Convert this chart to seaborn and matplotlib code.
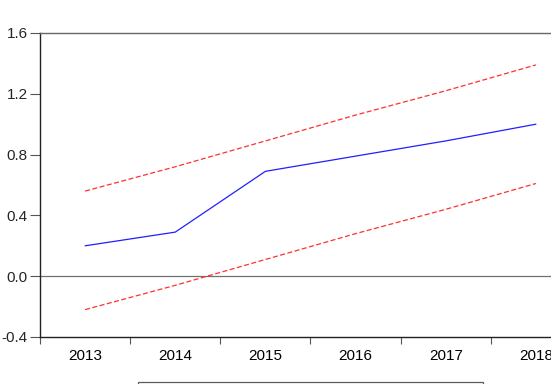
import matplotlib
matplotlib.use("Agg")
import matplotlib.pyplot as plt
import seaborn as sns
import pandas as pd

# values
years = ["2013", "2014", "2015", "2016", "2017", "2018"]
forecast = [0.20, 0.29, 0.69, 0.79, 0.89, 1.00]
upper_band = [0.56, 0.72, 0.89, 1.06, 1.22, 1.39]
lower_band = [-0.22, -0.06, 0.11, 0.28, 0.44, 0.61]
y_ticks = [-0.4, 0.0, 0.4, 0.8, 1.2, 1.6]

sns.set_style("white")
plt.rcParams["font.family"] = ["Liberation Sans", "DejaVu Sans"]

df = pd.DataFrame({"pos": range(len(years)), "year": years,
                   "forecast": forecast, "upper": upper_band, "lower": lower_band})

fig = plt.figure(figsize=(5.51, 3.84), dpi=100)
# axes runs past the right edge of the figure, like the cropped original
ax = fig.add_axes([40 / 551, 47 / 384, 541 / 551, 304 / 384])

sns.lineplot(data=df, x="pos", y="forecast", ax=ax, color="#2020ff",
             linewidth=0.9, label="Forecast")
sns.lineplot(data=df, x="pos", y="upper", ax=ax, color="#ff3030",
             linewidth=0.9, linestyle=(0, (4, 2)), label="\u00b1 2 S.E.")
sns.lineplot(data=df, x="pos", y="lower", ax=ax, color="#ff3030",
             linewidth=0.9, linestyle=(0, (4, 2)))

ax.axhline(0, color="#707070", linewidth=0.9, zorder=0)

ax.set_xlim(-0.5, len(years) - 0.5)
ax.set_ylim(-0.4, 1.6)
ax.set_yticks(y_ticks)
ax.set_yticklabels([f"{v:.1f}" for v in y_ticks])
ax.set_xticks(range(len(years)))
ax.set_xticklabels(years)
ax.set_xticks([i - 0.5 for i in range(len(years) + 1)], minor=True)
ax.tick_params(axis="x", which="major", length=0, pad=9, labelsize=11, colors="black")
ax.tick_params(axis="x", which="minor", length=5, width=0.8, color="#555555",
               direction="out", bottom=True)
ax.tick_params(axis="y", length=7, width=0.8, color="#555555", labelsize=11,
               left=True, pad=2)
ax.set_xlabel("")
ax.set_ylabel("")

for side in ["left", "bottom"]:
    ax.spines[side].set_color("#222222")
    ax.spines[side].set_linewidth(1.0)
ax.spines["top"].set_color("#666666")
ax.spines["top"].set_linewidth(1.0)
ax.spines["right"].set_visible(False)

ax.get_legend().remove()
handles, labels = ax.get_legend_handles_labels()
leg = fig.legend(handles, labels, ncol=2, loc="upper left", mode="expand",
                 bbox_to_anchor=(138 / 551, 0.006 - 0.08, 345 / 551, 0.08),
                 bbox_transform=fig.transFigure, borderaxespad=0,
                 frameon=True, fancybox=False, fontsize=11)
leg.get_frame().set_edgecolor("#333333")
leg.get_frame().set_linewidth(0.9)

fig.savefig("out.png", dpi=100)
